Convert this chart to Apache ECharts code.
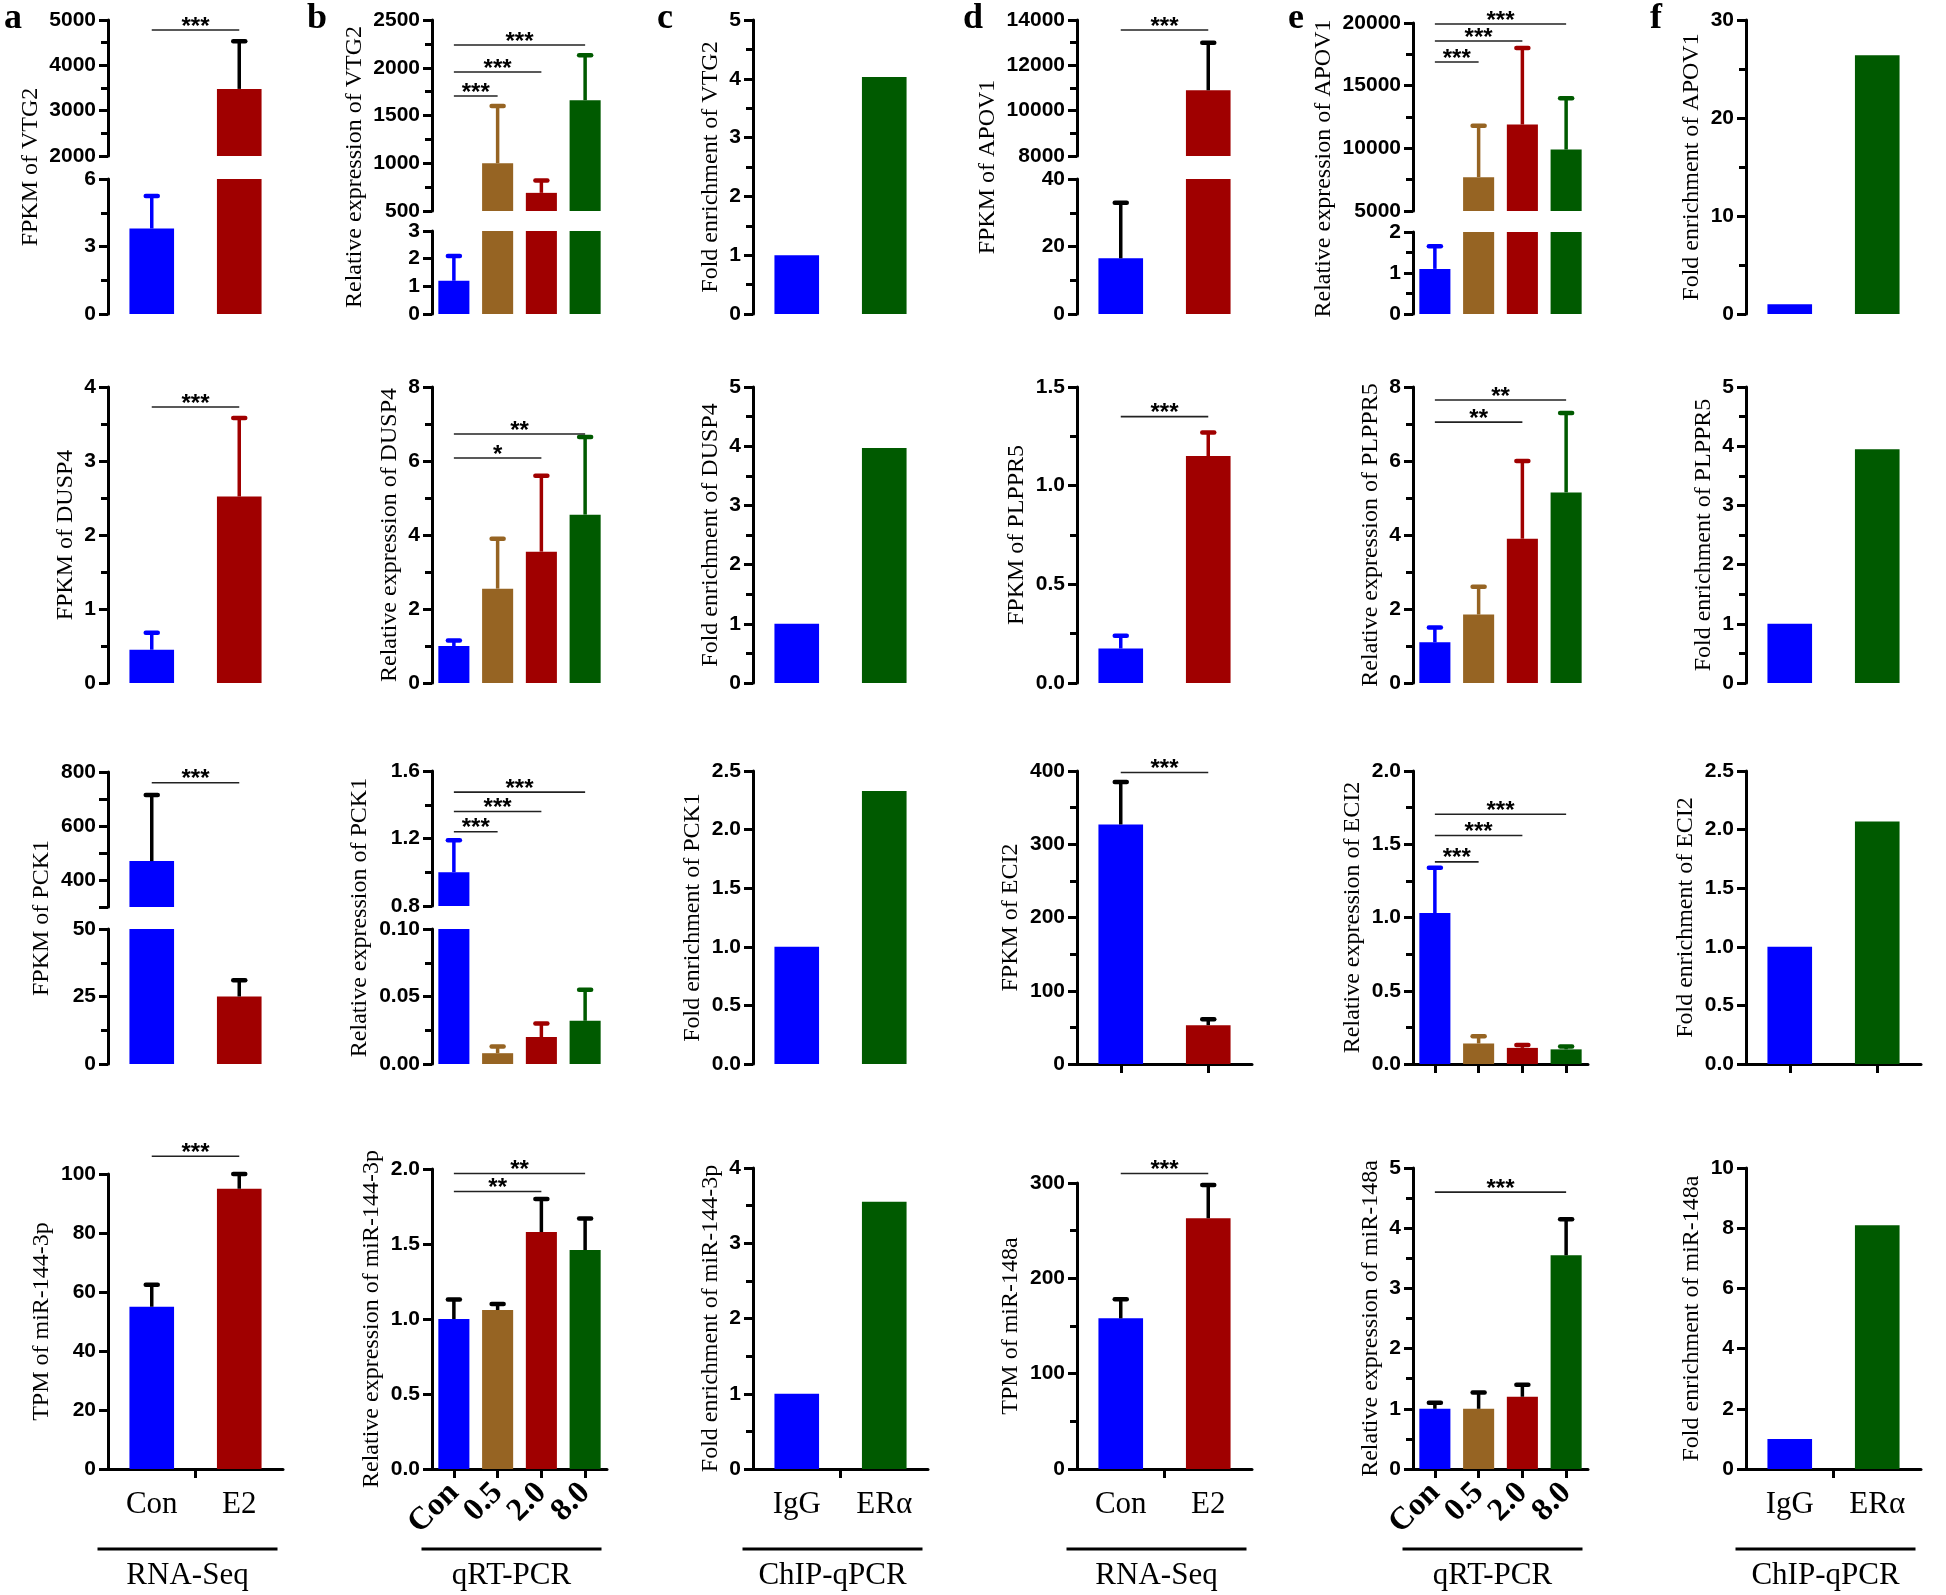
<!DOCTYPE html>
<html>
<head>
<meta charset="utf-8">
<script src="https://cdn.jsdelivr.net/npm/echarts@6/dist/echarts.min.js"></script>
<style>
  html, body { margin: 0; padding: 0; background: #fff; }
  #main { width: 1946px; height: 1595px; }
</style>
</head>
<body>
<div id="main"></div>
<script>
// categories
var catSeq = ['Con', 'E2'];
var catPcr = ['Con', '0.5', '2.0', '8.0'];
var catChip = ['IgG', 'ERα'];

// bar heights, tops of error bars, significance bars [from, to, y, stars]
var vtg2Seq = [3.8, 3480], vtg2SeqErr = [5.25, 4530], vtg2SeqSig = [[0, 1, 4780, 3]];
var vtg2Pcr = [1.2, 1000, 690, 1660], vtg2PcrErr = [2.1, 1600, 820, 2130];
var vtg2PcrSig = [[0, 1, 1704, 3], [0, 2, 1955, 3], [0, 3, 2238, 3]];
var vtg2Chip = [1, 4.03];
var apov1Seq = [16.5, 10900], apov1SeqErr = [33, 13000], apov1SeqSig = [[0, 1, 13560, 3]];
var apov1Pcr = [1.1, 7700, 11900, 9900], apov1PcrErr = [1.65, 11800, 18000, 14000];
var apov1PcrSig = [[0, 1, 16890, 3], [0, 2, 18560, 3], [0, 3, 19920, 3]];
var apov1Chip = [1, 26.4];

var dusp4Seq = [0.45, 2.52], dusp4SeqErr = [0.68, 3.58], dusp4SeqSig = [[0, 1, 3.73, 3]];
var dusp4Pcr = [1.0, 2.55, 3.55, 4.55], dusp4PcrErr = [1.15, 3.9, 5.6, 6.65];
var dusp4PcrSig = [[0, 2, 6.08, 1], [0, 3, 6.73, 2]];
var dusp4Chip = [1, 3.97];
var plppr5Seq = [0.175, 1.15], plppr5SeqErr = [0.24, 1.27], plppr5SeqSig = [[0, 1, 1.35, 3]];
var plppr5Pcr = [1.1, 1.85, 3.9, 5.15], plppr5PcrErr = [1.5, 2.6, 6.0, 7.3];
var plppr5PcrSig = [[0, 2, 7.05, 2], [0, 3, 7.65, 2]];
var plppr5Chip = [1, 3.95];

var pck1Seq = [470, 25], pck1SeqErr = [715, 31], pck1SeqSig = [[0, 1, 760, 3]];
var pck1Pcr = [1.0, 0.008, 0.02, 0.032], pck1PcrErr = [1.19, 0.013, 0.03, 0.055];
var pck1PcrSig = [[0, 1, 1.24, 3], [0, 2, 1.36, 3], [0, 3, 1.475, 3]];
var pck1Chip = [1, 2.33];
var eci2Seq = [327, 53], eci2SeqErr = [385, 61], eci2SeqSig = [[0, 1, 398, 3]];
var eci2Pcr = [1.03, 0.14, 0.11, 0.10], eci2PcrErr = [1.34, 0.19, 0.13, 0.12];
var eci2PcrSig = [[0, 1, 1.38, 3], [0, 2, 1.56, 3], [0, 3, 1.705, 3]];
var eci2Chip = [1, 2.07];

var mir144Seq = [55, 95], mir144SeqErr = [62.5, 100], mir144SeqSig = [[0, 1, 106, 3]];
var mir144Pcr = [1.0, 1.06, 1.58, 1.46], mir144PcrErr = [1.13, 1.10, 1.80, 1.67];
var mir144PcrSig = [[0, 2, 1.85, 2], [0, 3, 1.97, 2]];
var mir144Chip = [1, 3.55];
var mir148Seq = [158, 263], mir148SeqErr = [178, 298], mir148SeqSig = [[0, 1, 310, 3]];
var mir148Pcr = [1.0, 1.0, 1.2, 3.55], mir148PcrErr = [1.1, 1.27, 1.4, 4.15];
var mir148PcrSig = [[0, 3, 4.6, 3]];
var mir148Chip = [1, 8.1];

var groupNames = ['RNA-Seq', 'qRT-PCR', 'ChIP-qPCR', 'RNA-Seq', 'qRT-PCR', 'ChIP-qPCR'];
var panelLetters = ['a', 'b', 'c', 'd', 'e', 'f'];

// styles / layout
var BLUE = '#0000ff', BROWN = '#966423', RED = '#a00000', GREEN = '#005a00', BLACK = '#000';
var SANS = '"Liberation Sans", Arial, sans-serif';
var SERIF = '"Liberation Serif", "Times New Roman", serif';
var colLeft = [108, 432, 753, 1077, 1413, 1746];
var letterX = [4, 307, 657, 963, 1288, 1650];
var plotW = 175;
var LABEL_SIZE = 21, NAME_SIZE = 24;

function ax(min, max, step, minor, dec, top, bottom, only) {
  return { min: min, max: max, step: step, minor: minor, dec: dec, top: top, bottom: bottom, only: only };
}

var panels = [
  // row 1
  { col: 0, cats: catSeq, val: vtg2Seq, err: vtg2SeqErr, sig: vtg2SeqSig, name: 'FPKM of VTG2', errC: [BLUE, BLACK],
    axes: [ax(2000, 5000, 1000, 2, 0, 20, 156), ax(0, 6, 3, 2, 0, 179, 314)] },
  { col: 1, cats: catPcr, val: vtg2Pcr, err: vtg2PcrErr, sig: vtg2PcrSig, name: 'Relative expression of VTG2',
    axes: [ax(500, 2500, 500, 2, 0, 20, 211), ax(0, 3, 1, 0, 0, 231, 314)] },
  { col: 2, cats: catChip, val: vtg2Chip, name: 'Fold enrichment of VTG2', axes: [ax(0, 5, 1, 2, 0, 20, 314)] },
  { col: 3, cats: catSeq, val: apov1Seq, err: apov1SeqErr, sig: apov1SeqSig, name: 'FPKM of APOV1', errC: [BLACK, BLACK],
    axes: [ax(8000, 14000, 2000, 2, 0, 20, 156), ax(0, 40, 20, 2, 0, 179, 314)] },
  { col: 4, cats: catPcr, val: apov1Pcr, err: apov1PcrErr, sig: apov1PcrSig, name: 'Relative expression of APOV1',
    axes: [ax(5000, 20000, 5000, 2, 0, 23, 211), ax(0, 2, 1, 2, 0, 232, 314)] },
  { col: 5, cats: catChip, val: apov1Chip, name: 'Fold enrichment of APOV1', axes: [ax(0, 30, 10, 2, 0, 20, 314)] },
  // row 2
  { col: 0, cats: catSeq, val: dusp4Seq, err: dusp4SeqErr, sig: dusp4SeqSig, name: 'FPKM of DUSP4',
    axes: [ax(0, 4, 1, 2, 0, 387, 683)] },
  { col: 1, cats: catPcr, val: dusp4Pcr, err: dusp4PcrErr, sig: dusp4PcrSig, name: 'Relative expression of DUSP4',
    axes: [ax(0, 8, 2, 2, 0, 387, 683)] },
  { col: 2, cats: catChip, val: dusp4Chip, name: 'Fold enrichment of DUSP4', axes: [ax(0, 5, 1, 2, 0, 387, 683)] },
  { col: 3, cats: catSeq, val: plppr5Seq, err: plppr5SeqErr, sig: plppr5SeqSig, name: 'FPKM of PLPPR5',
    axes: [ax(0, 1.5, 0.5, 2, 1, 387, 683)] },
  { col: 4, cats: catPcr, val: plppr5Pcr, err: plppr5PcrErr, sig: plppr5PcrSig, name: 'Relative expression of PLPPR5',
    axes: [ax(0, 8, 2, 2, 0, 387, 683)] },
  { col: 5, cats: catChip, val: plppr5Chip, name: 'Fold enrichment of PLPPR5', axes: [ax(0, 5, 1, 2, 0, 387, 683)] },
  // row 3
  { col: 0, cats: catSeq, val: pck1Seq, err: pck1SeqErr, sig: pck1SeqSig, name: 'FPKM of PCK1', errC: [BLACK, BLACK],
    axes: [ax(300, 800, 100, 0, 0, 772, 907, [400, 600, 800]), ax(0, 50, 25, 2, 0, 929, 1064)] },
  { col: 1, cats: catPcr, val: pck1Pcr, err: pck1PcrErr, sig: pck1PcrSig, name: 'Relative expression of PCK1',
    axes: [ax(0.8, 1.6, 0.4, 2, 1, 771, 906), ax(0, 0.1, 0.05, 2, 2, 929, 1064)] },
  { col: 2, cats: catChip, val: pck1Chip, name: 'Fold enrichment of PCK1', axes: [ax(0, 2.5, 0.5, 0, 1, 771, 1064)] },
  { col: 3, cats: catSeq, val: eci2Seq, err: eci2SeqErr, sig: eci2SeqSig, name: 'FPKM of ECI2', errC: [BLACK, BLACK],
    axes: [ax(0, 400, 100, 2, 0, 771, 1064)], x: 'ticks' },
  { col: 4, cats: catPcr, val: eci2Pcr, err: eci2PcrErr, sig: eci2PcrSig, name: 'Relative expression of ECI2',
    axes: [ax(0, 2, 0.5, 2, 1, 771, 1064)], x: 'ticks' },
  { col: 5, cats: catChip, val: eci2Chip, name: 'Fold enrichment of ECI2', axes: [ax(0, 2.5, 0.5, 0, 1, 771, 1064)], x: 'ticks' },
  // row 4
  { col: 0, cats: catSeq, val: mir144Seq, err: mir144SeqErr, sig: mir144SeqSig, name: 'TPM of miR-144-3p', errC: [BLACK, BLACK],
    axes: [ax(0, 100, 20, 0, 0, 1174, 1469)], x: 'mid' },
  { col: 1, cats: catPcr, val: mir144Pcr, err: mir144PcrErr, sig: mir144PcrSig, name: 'Relative expression of miR-144-3p',
    errC: [BLACK, BLACK, BLACK, BLACK], axes: [ax(0, 2, 0.5, 0, 1, 1169, 1469)], x: 'rot' },
  { col: 2, cats: catChip, val: mir144Chip, name: 'Fold enrichment of miR-144-3p', axes: [ax(0, 4, 1, 2, 0, 1168, 1469)], x: 'mid' },
  { col: 3, cats: catSeq, val: mir148Seq, err: mir148SeqErr, sig: mir148SeqSig, name: 'TPM of miR-148a', errC: [BLACK, BLACK],
    axes: [ax(0, 300, 100, 2, 0, 1183, 1469)], x: 'mid' },
  { col: 4, cats: catPcr, val: mir148Pcr, err: mir148PcrErr, sig: mir148PcrSig, name: 'Relative expression of miR-148a',
    errC: [BLACK, BLACK, BLACK, BLACK], axes: [ax(0, 5, 1, 2, 0, 1168, 1469)], x: 'rot' },
  { col: 5, cats: catChip, val: mir148Chip, name: 'Fold enrichment of miR-148a', axes: [ax(0, 10, 2, 0, 0, 1168, 1469)], x: 'mid' }
];

function fmt(a, v) {
  if (a.only && a.only.indexOf(Math.round(v)) < 0) return '';
  return v.toFixed(a.dec);
}

// rough width of a bold Arial label
function labelWidth(a) {
  var w = 0;
  for (var v = a.min; v <= a.max + 1e-9; v += a.step) {
    var s = fmt(a, v), cw = 0;
    for (var k = 0; k < s.length; k++) cw += s[k] === '.' ? 0.278 : 0.556;
    w = Math.max(w, cw * LABEL_SIZE);
  }
  return w;
}

function renderErr(items) {
  return function (params, api) {
    var it = items[params.dataIndex];
    var base = api.coord([it.i, it.v]);
    var top = api.coord([it.i, it.t]);
    return {
      type: 'group',
      children: [
        { type: 'line', shape: { x1: base[0], y1: base[1], x2: top[0], y2: top[1] },
          style: { stroke: it.c, lineWidth: 3.5 } },
        { type: 'line', shape: { x1: top[0] - 6, y1: top[1], x2: top[0] + 6, y2: top[1] },
          style: { stroke: it.c, lineWidth: 4.5, lineCap: 'round' } }
      ]
    };
  };
}

function renderSig(params, api) {
  var a = api.coord([api.value(0), api.value(2)]);
  var b = api.coord([api.value(1), api.value(2)]);
  var n = api.value(3);
  return {
    type: 'group',
    children: [
      { type: 'line', shape: { x1: a[0], y1: a[1], x2: b[0], y2: b[1] },
        style: { stroke: '#222', lineWidth: 1.6 } },
      { type: 'text', x: (a[0] + b[0]) / 2, y: a[1] - 3,
        style: { text: n === 3 ? '***' : n === 2 ? '**' : '*', fill: '#000', font: 'bold 24px ' + SANS,
                 align: 'center', verticalAlign: 'middle' } }
    ]
  };
}

function renderMidTick(params, api) {
  var p = api.coord([0, api.value(1)]);
  var bw = api.size([1, 0])[0];
  return { type: 'line', shape: { x1: p[0] + bw / 2, y1: p[1], x2: p[0] + bw / 2, y2: p[1] + 9 },
           style: { stroke: '#000', lineWidth: 3 } };
}

var grids = [], xAxes = [], yAxes = [], series = [], graphics = [];

panels.forEach(function (p) {
  var n = p.cats.length;
  var colors = n === 4 ? [BLUE, BROWN, RED, GREEN] : (p.cats === catChip ? [BLUE, GREEN] : [BLUE, RED]);
  var errC = p.errC || colors;
  var left = colLeft[p.col];
  var single = p.axes.length === 1;
  var lw = 0;
  p.axes.forEach(function (a) { lw = Math.max(lw, labelWidth(a)); });
  var nameGap = lw + 19;

  p.axes.forEach(function (a, k) {
    var gi = grids.length;
    var isTop = k === 0, isBottom = k === p.axes.length - 1;
    grids.push({ left: left, top: a.top, width: plotW, height: a.bottom - a.top,
                 containLabel: false, outerBoundsMode: 'none' });

    var mode = isBottom ? (p.x || 'none') : 'none';
    xAxes.push({
      gridIndex: gi, type: 'category', data: p.cats,
      show: mode !== 'none',
      axisLine: { show: true, lineStyle: { color: '#000', width: 3 } },
      axisTick: { show: mode === 'ticks' || mode === 'rot', alignWithLabel: true, length: 9,
                  lineStyle: { color: '#000', width: 3 } },
      axisLabel: {
        show: mode === 'mid' || mode === 'rot',
        interval: 0,
        rotate: mode === 'rot' ? 45 : 0,
        margin: mode === 'rot' ? 19 : 20,
        fontFamily: SERIF, fontSize: mode === 'rot' ? 32 : 31,
        fontWeight: mode === 'rot' ? 'bold' : 'normal', color: '#000'
      }
    });

    yAxes.push({
      gridIndex: gi, type: 'value', min: a.min, max: a.max, interval: a.step,
      axisLine: { show: true, lineStyle: { color: '#000', width: 3 } },
      axisTick: { show: true, length: 9, lineStyle: { color: '#000', width: 3 } },
      minorTick: { show: a.minor > 0, splitNumber: a.minor || 2, length: 7, lineStyle: { color: '#000', width: 3 } },
      splitLine: { show: false },
      minorSplitLine: { show: false },
      axisLabel: { margin: 12, fontFamily: SANS, fontWeight: 'bold', fontSize: LABEL_SIZE, color: '#000',
                   formatter: function (v) { return fmt(a, v); } },
      name: single ? p.name : '',
      nameLocation: 'middle', nameGap: nameGap,
      nameTextStyle: { fontFamily: SERIF, fontSize: NAME_SIZE, color: '#000' }
    });

    series.push({
      type: 'bar', xAxisIndex: gi, yAxisIndex: gi, clip: true, silent: true,
      barWidth: n === 4 ? '71%' : '51%',
      data: p.val.map(function (v, i) { return { value: v, itemStyle: { color: colors[i] } }; })
    });

    if (p.err) {
      var items = [];
      p.val.forEach(function (v, i) {
        if (v >= a.min && v <= a.max) items.push({ i: i, v: v, t: p.err[i], c: errC[i] });
      });
      series.push({
        type: 'custom', xAxisIndex: gi, yAxisIndex: gi, z: 3, silent: true,
        renderItem: renderErr(items),
        data: items.map(function (it) { return [it.i, it.v, it.t]; })
      });
    }
    if (isTop && p.sig) {
      series.push({ type: 'custom', xAxisIndex: gi, yAxisIndex: gi, z: 4, silent: true,
                    renderItem: renderSig, data: p.sig });
    }
    if (mode === 'mid') {
      series.push({ type: 'custom', xAxisIndex: gi, yAxisIndex: gi, z: 4, silent: true,
                    renderItem: renderMidTick, data: [[0, a.min]] });
    }
  });

  // broken axis: one title spanning both pieces
  if (!single) {
    var top = p.axes[0].top, bottom = p.axes[p.axes.length - 1].bottom;
    graphics.push({
      type: 'text', x: left - nameGap - NAME_SIZE / 2, y: (top + bottom) / 2, rotation: Math.PI / 2,
      style: { text: p.name, font: NAME_SIZE + 'px ' + SERIF, fill: '#000', align: 'center', verticalAlign: 'middle' }
    });
  }
});

panelLetters.forEach(function (s, c) {
  graphics.push({ type: 'text', x: letterX[c], y: 19,
                  style: { text: s, font: 'bold 36px ' + SERIF, fill: '#000', align: 'left', verticalAlign: 'middle' } });
});

groupNames.forEach(function (s, c) {
  var cx = colLeft[c] + plotW / 2 - 8;
  graphics.push({ type: 'line', shape: { x1: cx - 90, y1: 1549, x2: cx + 90, y2: 1549 },
                  style: { stroke: '#000', lineWidth: 3 } });
  graphics.push({ type: 'text', x: cx, y: 1576,
                  style: { text: s, font: '31px ' + SERIF, fill: '#000', align: 'center', verticalAlign: 'middle' } });
});

var chart = echarts.init(document.getElementById('main'));
chart.setOption({
  backgroundColor: '#fff',
  animation: false,
  grid: grids,
  xAxis: xAxes,
  yAxis: yAxes,
  series: series,
  graphic: graphics
});
</script>
</body>
</html>
